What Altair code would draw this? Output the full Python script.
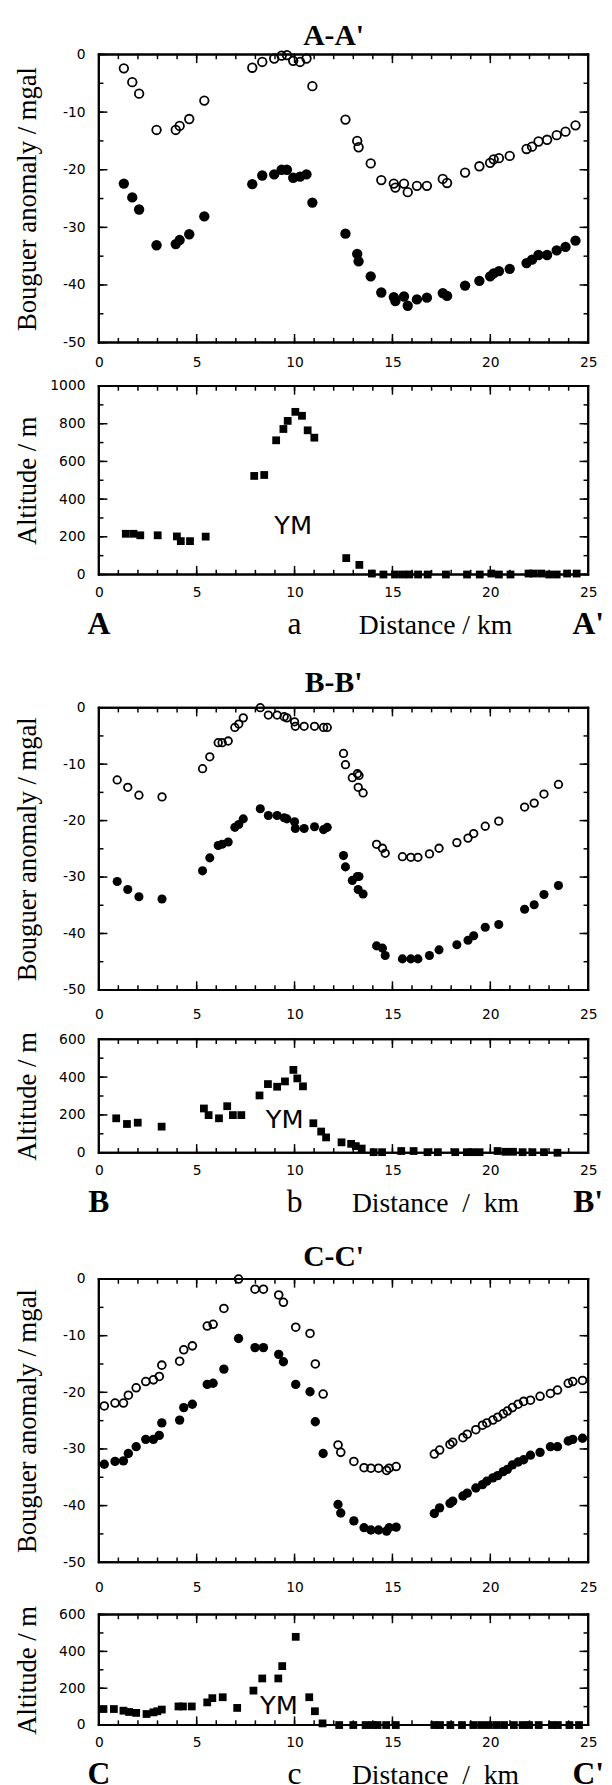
import altair as alt
import pandas as pd

SANS = "DejaVu Sans"
SERIF = "Liberation Serif"
W = 496

# ---------------- data ----------------
X_DOMAIN = [0, 25]
TOP_DOMAIN = [-50, 0]
ALT_A_DOMAIN = [0, 1000]
ALT_BC_DOMAIN = [0, 600]
X_MAJOR = [0, 5, 10, 15, 20, 25]
X_MINOR = list(range(0, 26))
TOP_MAJOR = [0, -10, -20, -30, -40, -50]
TOP_MINOR = [0, -5, -10, -15, -20, -25, -30, -35, -40, -45, -50]
ALT_A_MAJOR = [0, 200, 400, 600, 800, 1000]
ALT_A_MINOR = [0, 100, 200, 300, 400, 500, 600, 700, 800, 900, 1000]
ALT_BC_MAJOR = [0, 200, 400, 600]
ALT_BC_MINOR = [0, 100, 200, 300, 400, 500, 600]

A_x = [1.28, 1.71, 2.06, 2.95, 3.93, 4.13, 4.62, 5.39, 7.84, 8.35, 8.96, 9.34, 9.61, 9.93,
       10.28, 10.61, 10.91, 12.6, 13.2, 13.27, 13.89, 14.43, 15.07, 15.15, 15.59, 15.78,
       16.25, 16.76, 17.57, 17.79, 18.71, 19.44, 19.99, 20.17, 20.44, 20.99, 21.85, 22.13,
       22.46, 22.9, 23.39, 23.84, 24.35]
A_open = [-2.4, -4.8, -6.8, -13.1, -13.1, -12.4, -11.2, -8.0, -2.3, -1.3, -0.7, -0.2, -0.1,
          -1.1, -1.3, -0.7, -5.5, -11.3, -15.0, -16.1, -18.9, -21.8, -22.4, -23.1, -22.4,
          -23.9, -22.8, -22.8, -21.6, -22.3, -20.5, -19.4, -18.8, -18.2, -18.0, -17.6, -16.4,
          -16.0, -15.1, -14.8, -14.0, -13.4, -12.3]
A_fill = [-22.4, -24.8, -26.9, -33.1, -32.9, -32.2, -31.2, -28.1, -22.5, -21.0, -20.8, -20.0,
          -20.0, -21.4, -21.2, -20.8, -25.7, -31.1, -34.6, -35.9, -38.5, -41.3, -42.1, -42.8,
          -42.0, -43.6, -42.5, -42.2, -41.4, -41.9, -40.1, -39.3, -38.5, -38.0, -37.6, -37.2,
          -36.2, -35.6, -34.8, -34.8, -34.0, -33.4, -32.3]

A_alt_x = [1.38, 1.77, 2.12, 3.01, 3.99, 4.19, 4.66, 5.46, 7.94, 8.45, 9.06, 9.43, 9.65, 10.04,
           10.38, 10.67, 11.01, 12.64, 13.31, 13.95, 14.54, 15.13, 15.53, 15.86, 16.31, 16.8,
           17.73, 18.81, 19.46, 20.05, 20.44, 21.03, 21.95, 22.21, 22.6, 23.0, 23.39, 23.92, 24.41]
A_alt = [216, 216, 208, 208, 202, 177, 177, 201, 523, 528, 712, 772, 815, 863, 842, 765, 726,
         87, 51, 5, 0, 0, 0, 0, 0, 0, 0, 0, 0, 5, 0, 0, 5, 5, 5, 0, 0, 5, 5]

B_x = [0.94, 1.48, 2.05, 3.23, 5.3, 5.67, 6.1, 6.3, 6.61, 6.95, 7.15, 7.38, 8.25, 8.66, 9.11,
       9.47, 9.61, 10.0, 10.04, 10.49, 11.02, 11.48, 11.67, 12.5, 12.6, 12.95, 13.21, 13.29,
       13.25, 13.5, 14.19, 14.49, 14.63, 15.51, 15.94, 16.3, 16.89, 17.38, 18.29, 18.86, 19.15,
       19.74, 20.43, 21.75, 22.24, 22.74, 23.48]
B_open = [-12.8, -14.1, -15.5, -15.8, -10.8, -8.7, -6.2, -6.2, -5.9, -3.5, -2.9, -1.8, 0.0,
          -1.3, -1.3, -1.6, -1.8, -2.5, -3.3, -3.3, -3.3, -3.5, -3.5, -8.1, -10.1, -12.4, -11.7,
          -12.0, -14.1, -15.1, -24.2, -24.9, -25.8, -26.4, -26.5, -26.5, -25.9, -24.9, -23.9,
          -23.1, -22.3, -21.0, -20.1, -17.6, -16.9, -15.3, -13.6]
B_fill = [-30.8, -32.2, -33.5, -33.9, -28.9, -26.6, -24.4, -24.2, -23.8, -21.2, -20.7, -19.7,
          -17.9, -19.1, -19.1, -19.5, -19.7, -20.2, -21.4, -21.4, -21.1, -21.6, -21.2, -26.2,
          -28.2, -30.6, -29.9, -29.9, -32.2, -33.0, -42.2, -42.6, -43.9, -44.5, -44.5, -44.5,
          -43.9, -42.9, -42.0, -41.2, -40.4, -38.9, -38.4, -35.7, -34.9, -33.1, -31.5]

B_alt_x = [0.89, 1.44, 1.99, 3.21, 5.37, 5.61, 6.14, 6.56, 6.85, 7.28, 8.21, 8.64, 9.11, 9.51,
           9.94, 10.14, 10.43, 10.96, 11.36, 11.61, 12.4, 12.89, 13.13, 13.43, 14.04, 14.47,
           15.45, 16.08, 16.79, 17.32, 18.21, 18.8, 19.09, 19.45, 20.37, 20.77, 21.16, 21.65,
           22.15, 22.74, 23.43]
B_alt = [182, 152, 159, 138, 234, 199, 182, 246, 199, 199, 303, 363, 349, 377, 438, 393, 351,
         156, 112, 81, 55, 47, 35, 22, 3, 3, 9, 9, 3, 3, 3, 3, 3, 3, 9, 5, 5, 3, 3, 3, 0]

C_x = [0.28, 0.83, 1.26, 1.51, 1.91, 2.4, 2.79, 3.09, 3.22, 4.13, 4.34, 4.78, 5.54, 5.84, 6.39,
       7.14, 7.98, 8.41, 9.19, 9.43, 10.06, 10.79, 11.06, 11.46, 12.22, 12.36, 13.03, 13.55,
       13.9, 14.29, 14.7, 14.83, 15.19, 17.14, 17.41, 17.94, 18.08, 18.6, 18.82, 19.26, 19.6,
       19.82, 20.13, 20.38, 20.66, 20.87, 21.13, 21.42, 21.7, 22.05, 22.54, 23.07, 23.43,
       23.98, 24.21, 24.71]
C_open = [-22.4, -21.9, -21.9, -20.5, -19.2, -18.1, -17.8, -17.2, -15.2, -14.5, -12.5, -11.8,
          -8.3, -8.0, -5.2, 0.0, -1.8, -1.8, -2.8, -4.1, -8.5, -9.6, -15.0, -20.3, -29.3, -30.6,
          -32.2, -33.3, -33.4, -33.4, -33.8, -33.4, -33.1, -30.9, -30.2, -29.2, -28.8, -28.0,
          -27.4, -26.6, -25.8, -25.4, -24.9, -24.4, -23.8, -23.3, -22.7, -22.1, -21.6, -21.4,
          -20.7, -20.2, -19.6, -18.4, -18.1, -17.9]
C_fill = [-32.7, -32.2, -32.1, -30.8, -29.6, -28.3, -28.3, -27.6, -25.4, -24.9, -22.7, -22.1,
          -18.6, -18.4, -15.9, -10.5, -12.1, -12.1, -13.3, -14.6, -18.6, -19.9, -25.2, -30.8,
          -39.8, -41.3, -42.7, -43.9, -44.3, -44.3, -44.5, -43.9, -43.8, -41.4, -40.4, -39.6,
          -39.2, -38.3, -37.8, -36.9, -36.3, -35.7, -35.1, -34.7, -34.0, -33.6, -32.8, -32.3,
          -31.9, -31.1, -30.6, -29.6, -29.6, -28.6, -28.3, -28.1]

C_alt_x = [0.24, 0.77, 1.26, 1.55, 1.91, 2.44, 2.79, 2.99, 3.22, 4.07, 4.3, 4.75, 5.54, 5.8,
           6.33, 7.07, 7.9, 8.35, 9.17, 9.37, 10.06, 10.75, 11.04, 11.43, 12.28, 13.0, 13.63,
           13.99, 14.24, 14.68, 15.17, 17.14, 17.43, 17.96, 18.55, 19.13, 19.53, 19.92, 20.31,
           20.7, 21.2, 21.65, 21.98, 22.47, 23.15, 23.45, 24.04, 24.53]
C_alt = [87, 87, 78, 71, 66, 60, 69, 75, 84, 101, 101, 101, 123, 146, 151, 93, 187, 253, 253,
         320, 479, 151, 75, 9, 0, 0, 0, 0, 0, 0, 0, 0, 0, 0, 0, 0, 0, 0, 0, 0, 0, 0, 0, 0, 0,
         0, 0, 0]

YM_label = ["YM"]
A_ym = (9.93, 256)
B_ym = (9.5, 172)
C_ym = (9.2, 102)

# profile end letters (bold) and mountain letter + distance label (normal), placed along x
END_X = [0, 25]
NORMAL_X = [10, 17.2]
LETTERS = {"A": (["A", "A'"], ["a", "Distance / km"]),
           "B": (["B", "B'"], ["b", "Distance\u00a0 /\u00a0 km"]),
           "C": (["C", "C'"], ["c", "Distance\u00a0 /\u00a0 km"])}
NORMAL_SIZE = [32, 28]

MAJ, MIN = 8, 4

# symbol paths (unit-scaled, Vega scales them by sqrt(size)/2) for frame sides and inward ticks
P_HLINE = "M-1,0L1,0"
P_VLINE = "M0,-1L0,1"
P_UP, P_DOWN, P_RIGHT, P_LEFT = "M0,0L0,-2", "M0,0L0,2", "M0,0L2,0", "M0,0L-2,0"


# ---------------- helpers ----------------
def lab_expr():
    return "'' + datum.value"


def main_x_axis(pad):
    return alt.Axis(orient="bottom", values=X_MAJOR, tickSize=0, domain=False, grid=False,
                    labelFont=SANS, labelFontSize=14, labelPadding=pad, labelColor="black",
                    labelFlush=False, labelOverlap=False, labelExpr=lab_expr(), title=None)


def main_y_axis(vals, title, H):
    return alt.Axis(orient="left", values=vals, tickSize=0, domain=False, grid=False,
                    labelFont=SANS, labelFontSize=14, labelPadding=14, labelColor="black",
                    labelFlush=False, labelOverlap=False, labelExpr=lab_expr(),
                    title=title, titleFont=SERIF, titleFontSize=27, titleFontWeight="normal",
                    titleColor="black", titleX=-72, titleY=H / 2, titleAngle=270,
                    titleBaseline="middle", titleAlign="center")


def frame_rows(ydom, ymaj, ymin, H):
    """Frame sides and inward ticks, as rows of (x, y, shape, size, fill, strokeWidth)."""
    lo, hi = ydom
    xm = (X_DOMAIN[0] + X_DOMAIN[1]) / 2
    ym = (lo + hi) / 2
    rows = [
        (xm, hi, P_HLINE, W * W, "transparent", 2),
        (xm, lo, P_HLINE, W * W, "transparent", 2),
        (X_DOMAIN[0], ym, P_VLINE, H * H, "transparent", 2),
        (X_DOMAIN[1], ym, P_VLINE, H * H, "transparent", 2),
    ]
    for vals, L in ((X_MAJOR, MAJ), (X_MINOR, MIN)):
        for v in vals:
            rows.append((v, lo, P_UP, L * L, "transparent", 1.5))
            rows.append((v, hi, P_DOWN, L * L, "transparent", 1.5))
    for vals, L in ((ymaj, MAJ), (ymin, MIN)):
        for v in vals:
            rows.append((X_DOMAIN[0], v, P_RIGHT, L * L, "transparent", 1.5))
            rows.append((X_DOMAIN[1], v, P_LEFT, L * L, "transparent", 1.5))
    return rows


def symbol_layer(rows, X, Y):
    d = pd.DataFrame(rows, columns=["x", "y", "shp", "sz", "fl", "sw"])
    return alt.Chart(d).mark_point(filled=True, opacity=1, fillOpacity=1, strokeOpacity=1,
                                   strokeCap="square").encode(
        x=X(), y=Y(),
        shape=alt.Shape("shp:N", scale=None, legend=None),
        size=alt.Size("sz:Q", scale=None, legend=None),
        fill=alt.Fill("fl:N", scale=None, legend=None),
        strokeWidth=alt.StrokeWidth("sw:Q", scale=None, legend=None),
        stroke=alt.value("black"),
    )


def encoders(pad, ydom, yvals, ytitle, H):
    xs = alt.Scale(domain=X_DOMAIN, nice=False, zero=False)
    ys = alt.Scale(domain=ydom, nice=False, zero=False)

    def X():
        return alt.X("x:Q", scale=xs, axis=main_x_axis(pad))

    def Y():
        return alt.Y("y:Q", scale=ys, axis=main_y_axis(yvals, ytitle, H))
    return X, Y


def top_panel(name, xv, yo, yf, H, so, sf, pad, toff):
    X, Y = encoders(pad, TOP_DOMAIN, TOP_MAJOR, "Bouguer anomaly / mgal", H)
    rows = frame_rows(TOP_DOMAIN, TOP_MAJOR, TOP_MINOR, H)
    rows += [(x, y, "circle", so, "transparent", 1.8) for x, y in zip(xv, yo)]
    rows += [(x, y, "circle", sf, "black", 0) for x, y in zip(xv, yf)]
    t = alt.TitleParams(f"{name}-{name}'", font=SERIF, fontSize=30, fontWeight="bold",
                        color="black", anchor="middle", dx=-10, offset=toff)
    return symbol_layer(rows, X, Y).properties(width=W, height=H, title=t)


def alt_panel(ax, ay, H, ydom, ymaj, ymin, ym):
    X, Y = encoders(11, ydom, ymaj, "Altitude / m", H)
    rows = frame_rows(ydom, ymaj, ymin, H)
    rows += [(x, y, "square", 62, "black", 0) for x, y in zip(ax, ay)]
    d_ym = pd.DataFrame({"x": [ym[0]], "y": [ym[1]], "t": YM_label})
    layers = [
        symbol_layer(rows, X, Y),
        alt.Chart(d_ym).mark_text(font=SANS, fontSize=26, color="black").encode(
            x=X(), y=Y(), text="t:N"),
    ]
    return alt.layer(*layers).properties(width=W, height=H)


def letter_row(name, hL):
    xs = alt.Scale(domain=X_DOMAIN, nice=False, zero=False)
    ends, normals = LETTERS[name]
    d_end = pd.DataFrame({"x": END_X, "t": ends})
    d_norm = pd.DataFrame({"x": NORMAL_X, "t": normals, "s": NORMAL_SIZE})
    l1 = alt.Chart(d_end).mark_text(font=SERIF, fontSize=32, fontWeight="bold", color="black",
                                    baseline="alphabetic").encode(
        x=alt.X("x:Q", scale=xs, axis=None), text="t:N")
    l2 = alt.Chart(d_norm).mark_text(font=SERIF, fontWeight="normal", color="black",
                                     baseline="alphabetic").encode(
        x=alt.X("x:Q", scale=xs, axis=None), text="t:N",
        size=alt.Size("s:Q", scale=None, legend=None))
    return alt.layer(l1, l2).properties(width=W, height=hL,
                                        view=alt.ViewBackground(strokeWidth=0))


rows = [
    top_panel("A", A_x, A_open, A_fill, 292, 75, 110, 13, -4),
    alt_panel(A_alt_x, A_alt, 191, ALT_A_DOMAIN, ALT_A_MAJOR, ALT_A_MINOR, A_ym),
    letter_row("A", 49),
    top_panel("B", B_x, B_open, B_fill, 286, 58, 85, 18, 3),
    alt_panel(B_alt_x, B_alt, 115, ALT_BC_DOMAIN, ALT_BC_MAJOR, ALT_BC_MINOR, B_ym),
    letter_row("B", 41),
    top_panel("C", C_x, C_open, C_fill, 287, 62, 90, 19, 0),
    alt_panel(C_alt_x, C_alt, 112, ALT_BC_DOMAIN, ALT_BC_MAJOR, ALT_BC_MINOR, C_ym),
    letter_row("C", 30),
]

chart = alt.vconcat(*rows, spacing=8).properties(
    padding={"left": 5, "top": 0, "right": 0, "bottom": 0},
).configure_view(stroke="black", strokeWidth=2)

chart.save("out.html", embed_options={"renderer": "svg", "actions": False})
